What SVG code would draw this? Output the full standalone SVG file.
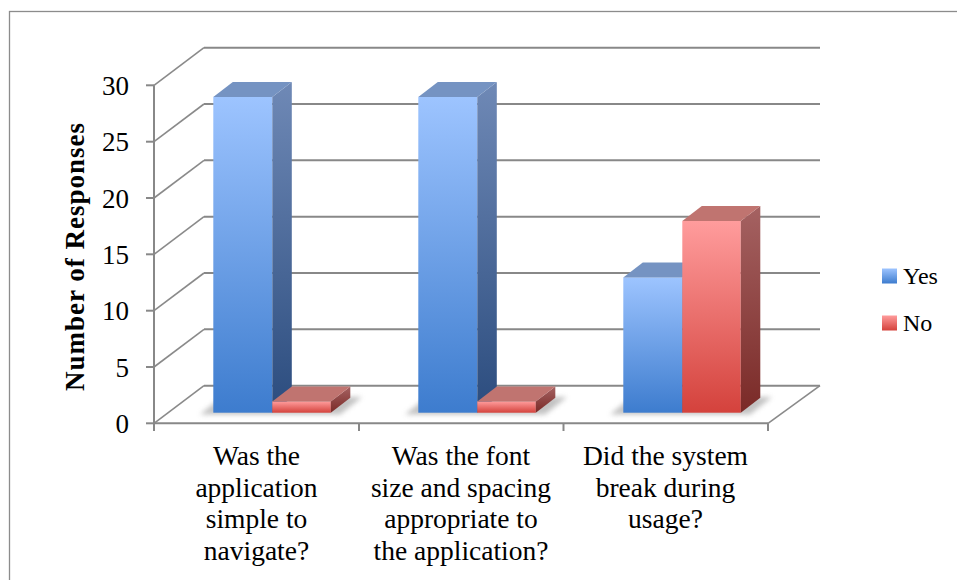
<svg xmlns="http://www.w3.org/2000/svg" width="957" height="580" viewBox="0 0 957 580">
<defs>
<linearGradient id="yesFront" x1="0" y1="0" x2="0" y2="1"><stop offset="0" stop-color="#9DC4FF"/><stop offset="1" stop-color="#3D7CCE"/></linearGradient>
<linearGradient id="yesSide" x1="0" y1="0" x2="0" y2="1"><stop offset="0" stop-color="#6F89B6"/><stop offset="1" stop-color="#2B4C7E"/></linearGradient>
<linearGradient id="noFront" x1="0" y1="0" x2="0" y2="1"><stop offset="0" stop-color="#FF9C9C"/><stop offset="1" stop-color="#D4423C"/></linearGradient>
<linearGradient id="noSide" x1="0" y1="0" x2="0" y2="1"><stop offset="0" stop-color="#A56262"/><stop offset="1" stop-color="#7A2A27"/></linearGradient>
<filter id="blur" x="-20%" y="-100%" width="140%" height="300%"><feGaussianBlur stdDeviation="2.5"/></filter>
<style>
.grid{stroke:#888;stroke-width:2;fill:none}
.diag{stroke:#8a8a8a;stroke-width:1.6;fill:none}
.axis{stroke:#888;stroke-width:2;fill:none}
.tick{font-family:"Liberation Serif",serif;font-size:27px;fill:#000;text-anchor:end}
.cat{font-family:"Liberation Serif",serif;font-size:27.5px;fill:#000;text-anchor:middle}
.leg{font-family:"Liberation Serif",serif;font-size:24px;fill:#000}
.title{font-family:"Liberation Serif",serif;font-size:27px;font-weight:bold;fill:#000;text-anchor:middle}
.yt{fill:#7593C2}
.nt{fill:#C07470}
.shadow{fill:#9a9a9a;opacity:0.6;filter:url(#blur)}
</style>
</defs>
<rect x="0" y="0" width="957" height="580" fill="#fff"/>
<rect x="9.5" y="11.5" width="1000" height="1000" fill="none" stroke="#8c8c8c" stroke-width="1.3"/>

<g id="walls">
<polygon points="154,423.3 768,423.3 820,385.7 204,385.7" fill="#fff" stroke="none"/>
<g class="grid">
<line x1="204" y1="47.7" x2="820" y2="47.7"/>
<line x1="204" y1="104" x2="820" y2="104"/>
<line x1="204" y1="160.3" x2="820" y2="160.3"/>
<line x1="204" y1="216.7" x2="820" y2="216.7"/>
<line x1="204" y1="273" x2="820" y2="273"/>
<line x1="204" y1="329.3" x2="820" y2="329.3"/>
<line x1="204" y1="385.7" x2="820" y2="385.7"/>
</g>
<g class="diag">
<line x1="154" y1="85.3" x2="204" y2="47.7"/>
<line x1="154" y1="141.7" x2="204" y2="104"/>
<line x1="154" y1="198" x2="204" y2="160.3"/>
<line x1="154" y1="254.3" x2="204" y2="216.7"/>
<line x1="154" y1="310.7" x2="204" y2="273"/>
<line x1="154" y1="367" x2="204" y2="329.3"/>
<line x1="154" y1="423.3" x2="204" y2="385.7"/>
<line x1="768" y1="423.3" x2="820" y2="385.7"/>
</g>
</g>

<g id="axes" class="axis">
<line x1="154" y1="85.3" x2="154" y2="424"/>
<line x1="146" y1="85.3" x2="154" y2="85.3"/>
<line x1="146" y1="141.7" x2="154" y2="141.7"/>
<line x1="146" y1="198" x2="154" y2="198"/>
<line x1="146" y1="254.3" x2="154" y2="254.3"/>
<line x1="146" y1="310.7" x2="154" y2="310.7"/>
<line x1="146" y1="367" x2="154" y2="367"/>
<line x1="146" y1="423.3" x2="154" y2="423.3"/>
<line x1="154" y1="423.3" x2="768" y2="423.3"/>
<line x1="154" y1="423.3" x2="154" y2="431"/>
<line x1="359" y1="423.3" x2="359" y2="431"/>
<line x1="563.5" y1="423.3" x2="563.5" y2="431"/>
<line x1="768" y1="423.3" x2="768" y2="431"/>
</g>

<g id="shadows">
<polygon class="shadow" points="200,414.5 222,397 362,397 340,414.5"/>
<polygon class="shadow" points="405,414.5 427,397 567,397 545,414.5"/>
<polygon class="shadow" points="610,414.5 632,397 772,397 750,414.5"/>
</g>

<g id="cat1-yes">
<rect x="213.3" y="96.9" width="59" height="315.8" fill="url(#yesFront)"/>
<polygon points="272.3,96.9 291.8,81.9 291.8,397.7 272.3,412.7" fill="url(#yesSide)"/>
<polygon class="yt" points="213.3,96.9 232.8,81.9 291.8,81.9 272.3,96.9"/>
</g>
<g id="cat1-no">
<rect x="272.3" y="401.4" width="58.5" height="11.3" fill="url(#noFront)"/>
<polygon points="330.8,401.4 350.3,386.4 350.3,397.7 330.8,412.7" fill="url(#noSide)"/>
<polygon class="nt" points="272.3,401.4 291.8,386.4 350.3,386.4 330.8,401.4"/>
</g>
<g id="cat2-yes">
<rect x="418.3" y="96.9" width="59" height="315.8" fill="url(#yesFront)"/>
<polygon points="477.3,96.9 496.8,81.9 496.8,397.7 477.3,412.7" fill="url(#yesSide)"/>
<polygon class="yt" points="418.3,96.9 437.8,81.9 496.8,81.9 477.3,96.9"/>
</g>
<g id="cat2-no">
<rect x="477.3" y="401.4" width="58.5" height="11.3" fill="url(#noFront)"/>
<polygon points="535.8,401.4 555.3,386.4 555.3,397.7 535.8,412.7" fill="url(#noSide)"/>
<polygon class="nt" points="477.3,401.4 496.8,386.4 555.3,386.4 535.8,401.4"/>
</g>
<g id="cat3-yes">
<rect x="623.3" y="277.4" width="59" height="135.3" fill="url(#yesFront)"/>
<polygon points="682.3,277.4 701.8,262.4 701.8,397.7 682.3,412.7" fill="url(#yesSide)"/>
<polygon class="yt" points="623.3,277.4 642.8,262.4 701.8,262.4 682.3,277.4"/>
</g>
<g id="cat3-no">
<rect x="682.3" y="221" width="58.5" height="191.7" fill="url(#noFront)"/>
<polygon points="740.8,221 760.3,206 760.3,397.7 740.8,412.7" fill="url(#noSide)"/>
<polygon class="nt" points="682.3,221 701.8,206 760.3,206 740.8,221"/>
</g>

<g id="tick-labels">
<text class="tick" x="129" y="95">30</text>
<text class="tick" x="129" y="151.4">25</text>
<text class="tick" x="129" y="207.7">20</text>
<text class="tick" x="129" y="264">15</text>
<text class="tick" x="129" y="320.4">10</text>
<text class="tick" x="129" y="376.7">5</text>
<text class="tick" x="129" y="433">0</text>
</g>

<g id="y-title">
<text class="title" transform="translate(84,257) rotate(-90)" textLength="268" lengthAdjust="spacing">Number of Responses</text>
</g>

<g id="cat-labels">
<text class="cat" x="256.5" y="465">Was the</text>
<text class="cat" x="256.5" y="496.5">application</text>
<text class="cat" x="256.5" y="528">simple to</text>
<text class="cat" x="256.5" y="559.5">navigate?</text>
<text class="cat" x="461" y="465">Was the font</text>
<text class="cat" x="461" y="496.5">size and spacing</text>
<text class="cat" x="461" y="528">appropriate to</text>
<text class="cat" x="461" y="559.5">the application?</text>
<text class="cat" x="665.5" y="465">Did the system</text>
<text class="cat" x="665.5" y="496.5">break during</text>
<text class="cat" x="665.5" y="528">usage?</text>
</g>

<g id="legend">
<rect x="882" y="268.5" width="15" height="15" fill="url(#yesFront)"/>
<text class="leg" x="903" y="284">Yes</text>
<rect x="882" y="315.5" width="15" height="15" fill="url(#noFront)"/>
<text class="leg" x="903" y="331">No</text>
</g>
</svg>
